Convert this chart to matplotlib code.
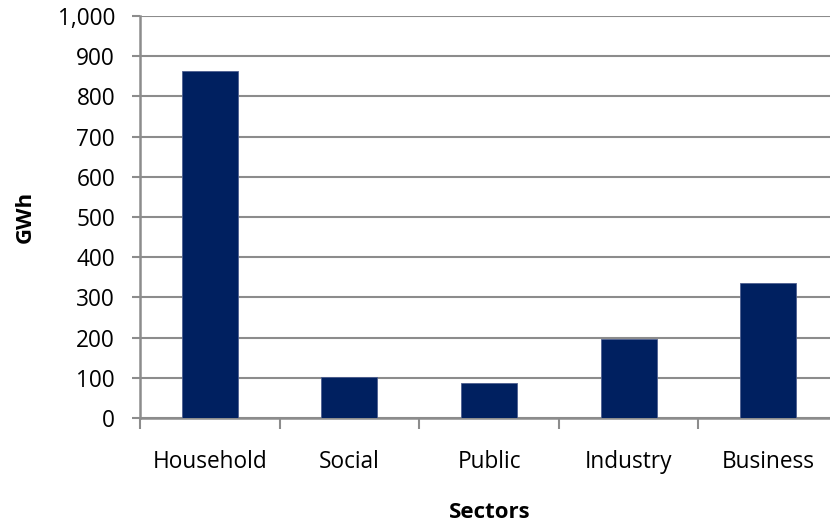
import matplotlib
matplotlib.use("Agg")
import matplotlib.pyplot as plt
from matplotlib.ticker import FuncFormatter, FixedLocator, NullFormatter

sectors = ["Household", "Social", "Public", "Industry", "Business"]
gwh = [863, 102, 87, 197, 336]
y_ticks = [0, 100, 200, 300, 400, 500, 600, 700, 800, 900, 1000]

plt.rcParams["font.family"] = ["Open Sans", "DejaVu Sans"]

W, H = 830, 526
fig = plt.figure(figsize=(W / 100, H / 100), dpi=100)
left, right, top, bottom = 140, 838, 16, 418
ax = fig.add_axes([left / W, 1 - bottom / H, (right - left) / W, (bottom - top) / H])

grey = "#8c8c8c"
x = list(range(len(sectors)))
ax.bar(x, gwh, width=0.4, color="#002060", edgecolor="#4d5e8f", linewidth=0.6, zorder=3)

ax.set_xlim(-0.5, len(sectors) - 0.5)
ax.set_ylim(0, 1000)
ax.set_yticks(y_ticks)
ax.yaxis.set_major_formatter(FuncFormatter(lambda v, p: f"{int(v):,}"))
ax.grid(axis="y", color=grey, linewidth=1.5, zorder=0)

ax.set_xticks(x)
ax.set_xticklabels(sectors)
ax.tick_params(axis="x", which="major", length=0, pad=23, labelsize=16.3)
ax.xaxis.set_minor_locator(FixedLocator([i - 0.5 for i in range(len(sectors) + 1)]))
ax.xaxis.set_minor_formatter(NullFormatter())
ax.tick_params(axis="x", which="minor", length=8, width=1.5, color=grey, direction="out")
ax.tick_params(axis="y", length=6, width=1.5, color=grey, labelsize=16.3, pad=12)

for s in ["top", "right"]:
    ax.spines[s].set_visible(False)
for s in ["left", "bottom"]:
    ax.spines[s].set_color(grey)
    ax.spines[s].set_linewidth(1.8)

ax.set_ylabel("GWh", fontsize=16, fontweight="bold", labelpad=16)
fig.text(490 / W, 1 - 512 / H, "Sectors", fontsize=16, fontweight="bold", ha="center", va="center")

fig.savefig("out.png", dpi=100)
